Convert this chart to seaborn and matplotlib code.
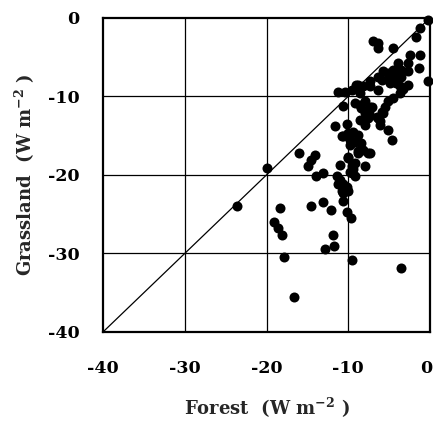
import matplotlib
matplotlib.use("Agg")
import matplotlib.pyplot as plt
import matplotlib.transforms as mtransforms
import seaborn as sns
import pandas as pd

forest = [
    -23.6, -20.0, -16.0, -18.3, -19.1, -18.6, -18.1, -17.9, -16.6, -14.5,
    -13.1, -12.1, -10.7, -10.1, -9.7, -11.9, -11.8, -12.8, -9.5, -3.5,
    -14.1, -14.5, -14.9, -13.9, -13.1, -10.8, -11.2, -11.4, -11.0, -10.2,
    -10.0, -10.6, -9.6, -9.4, -10.0, -11.0, -9.2, -8.8, -8.0, -7.3,
    -10.6, -11.6, -10.2, -10.6, -10.0, -9.4, -9.8, -8.8, -8.4, -8.0,
    -9.6, -9.8, -9.2, -10.6, -7.3, -6.5, -6.1, -5.1, -4.6, -5.9,
    -5.5, -5.1, -8.6, -8.4, -8.0, -7.6, -8.6, -7.9, -7.1, -7.5,
    -6.3, -5.7, -4.5, -6.1, -10.8, -9.2, -9.8, -8.2, -7.6, -8.8,
    -10.0, -0.2, -1.2, -1.7, -7.0, -6.3, -6.3, -4.5, -2.4, -1.2,
    -1.4, -2.7, -3.9, -3.5, -4.5, -5.1, -4.1, -4.9, -3.5, -2.7,
    -4.1, -5.7, -6.3, -7.3, -5.9, -4.9, -3.7, -2.7, -0.2, -8.8,
    -8.2, -11.2, -10.4, -9.6, -9.0, -8.6, -7.3, -6.3, -4.9, -3.7,
    -3.3, -9.2,
]
grassland = [
    -23.9, -19.1, -17.2, -24.2, -26.0, -26.8, -27.6, -30.4, -35.6, -24.0,
    -23.4, -24.5, -23.3, -24.7, -25.5, -27.7, -29.1, -29.4, -30.8, -31.9,
    -17.5, -18.1, -18.9, -20.1, -19.7, -22.1, -21.1, -20.2, -20.6, -21.5,
    -22.1, -22.3, -19.8, -19.2, -17.9, -18.7, -18.5, -17.2, -18.9, -17.2,
    -11.2, -13.8, -13.5, -15.1, -14.7, -14.5, -15.5, -14.9, -16.0, -13.6,
    -18.9, -19.6, -20.2, -21.1, -11.3, -12.6, -13.2, -14.3, -15.5, -12.0,
    -11.3, -10.6, -11.1, -11.5, -12.1, -12.8, -13.0, -10.6, -11.3, -12.1,
    -12.8, -12.1, -10.2, -13.6, -15.1, -15.8, -16.2, -16.8, -17.2, -17.0,
    -17.7, -0.25, -1.3, -2.4, -3.0, -3.2, -3.9, -3.9, -4.7, -4.7,
    -6.4, -5.8, -5.8, -6.6, -6.6, -7.0, -7.5, -7.7, -7.5, -6.8,
    -8.3, -6.8, -7.5, -8.1, -7.9, -8.3, -8.7, -8.5, -8.1, -8.5,
    -8.7, -9.4, -9.4, -9.2, -8.5, -9.6, -8.7, -9.2, -8.1, -9.6,
    -9.0, -10.9,
]

ticks = [-40, -30, -20, -10, 0]
tick_labels = ["-40", "-30", "-20", "-10", "0"]

df = pd.DataFrame({"Forest": forest, "Grassland": grassland})

sns.set_theme(style="white")
plt.rcParams["font.family"] = ["DejaVu Serif"]
plt.rcParams["mathtext.fontset"] = "dejavuserif"

fig = plt.figure(figsize=(4.33, 4.25), dpi=100)
ax = fig.add_axes([0.238, 0.219, 0.755, 0.739])

ax.set_xlim(-40, 0)
ax.set_ylim(-40, 0)
for t in [-30, -20, -10]:
    ax.axvline(t, color="black", lw=0.9, zorder=1)
    ax.axhline(t, color="black", lw=0.9, zorder=1)
ax.axline((0, 0), slope=1, color="black", lw=0.9, zorder=1)

sns.scatterplot(data=df, x="Forest", y="Grassland", color="black", s=52,
                linewidth=0, ax=ax, zorder=3, clip_on=False)

ax.set_xticks(ticks)
ax.set_xticklabels(tick_labels, fontweight="bold", fontsize=12.5)
ax.set_yticks(ticks)
ax.set_yticklabels(tick_labels, fontweight="bold", fontsize=12.5)
ax.tick_params(axis="x", length=0, pad=20, colors="black")
ax.tick_params(axis="y", length=0, pad=17, colors="black")

# nudge the rightmost x tick label slightly left so it stays inside the figure
last = ax.get_xticklabels()[-1]
last.set_transform(last.get_transform() + mtransforms.ScaledTranslation(-4 / 100, 0, fig.dpi_scale_trans))

for s in ax.spines.values():
    s.set_color("black")
    s.set_linewidth(1.6)

ax.set_xlabel(r"Forest  (W m$^{\mathbf{-2}}$ )", fontweight="bold", fontsize=13, labelpad=14)
ax.set_ylabel(r"Grassland  (W m$^{\mathbf{-2}}$ )", fontweight="bold", fontsize=13, labelpad=8)

fig.savefig("out.png", dpi=100, facecolor="white")
